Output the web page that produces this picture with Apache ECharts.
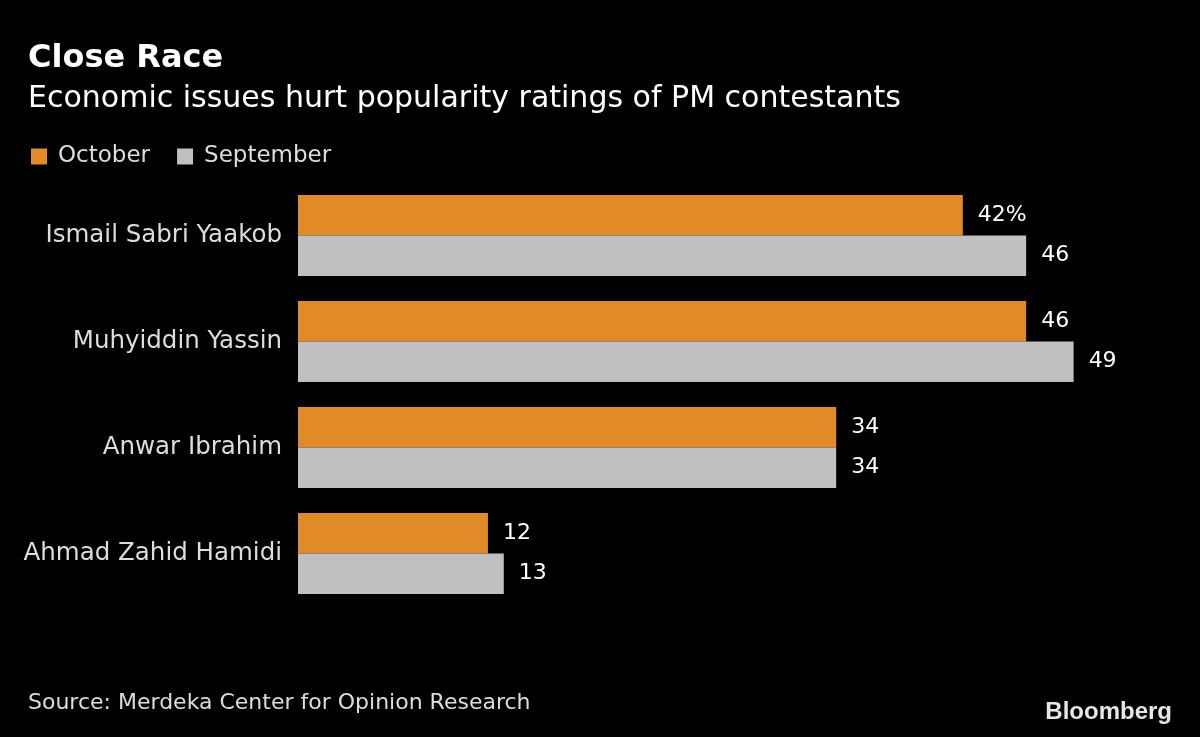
<!DOCTYPE html>
<html>
<head>
<meta charset="utf-8">
<script src="https://cdn.jsdelivr.net/npm/echarts@6/dist/echarts.min.js"></script>
<style>
html,body{margin:0;padding:0;background:#000;}
#chart{width:1200px;height:737px;}
</style>
</head>
<body>
<div id="chart"></div>
<script>
const categories = ["Ismail Sabri Yaakob", "Muhyiddin Yassin", "Anwar Ibrahim", "Ahmad Zahid Hamidi"];
const october = [42, 46, 34, 12];
const september = [46, 49, 34, 13];
const seriesNames = ["October", "September"];

const FONT = "'DejaVu Sans', sans-serif";
const chart = echarts.init(document.getElementById('chart'));
chart.setOption({
  backgroundColor: '#000',
  animation: false,
  textStyle: { fontFamily: FONT },
  title: [
    { text: 'Close Race', left: 23, top: 38, textStyle: { color: '#fff', fontSize: 32, fontWeight: 'bold', fontFamily: FONT } },
    { text: 'Economic issues hurt popularity ratings of PM contestants', left: 23, top: 79, textStyle: { color: '#fff', fontSize: 30, fontWeight: 'normal', fontFamily: FONT } },
    { text: 'Source: Merdeka Center for Opinion Research', left: 23, top: 687, textStyle: { color: '#ddd', fontSize: 22, fontWeight: 'normal', fontFamily: FONT } },
    { text: 'Bloomberg', right: 23, top: 695, textStyle: { color: '#e6e6e6', fontSize: 24, fontWeight: 'bold', fontFamily: "'Liberation Sans', Arial, sans-serif" } }
  ],
  legend: {
    left: 31, top: 145, padding: 0,
    itemWidth: 16, itemHeight: 16, itemGap: 27,
    icon: 'rect',
    textStyle: { color: '#ddd', fontSize: 23, fontFamily: FONT, padding: [0,0,0,6] },
    data: seriesNames
  },
  grid: { left: 298, top: 182.5, height: 424, width: 870.6, containLabel: false },
  xAxis: { type: 'value', min: 0, max: 55, show: false },
  yAxis: {
    type: 'category', data: categories, inverse: true,
    axisLine: { show: false }, axisTick: { show: false },
    axisLabel: { color: '#ddd', fontSize: 24.5, margin: 16, fontFamily: FONT }
  },
  series: [
    {
      name: seriesNames[0], type: 'bar', data: october,
      itemStyle: { color: '#e08a28' },
      barGap: '0%', barCategoryGap: '23.6%',
      label: { show: true, position: 'right', distance: 15, color: '#fff', fontSize: 22, fontFamily: FONT,
        formatter: p => p.dataIndex === 0 ? p.value + '%' : String(p.value) }
    },
    {
      name: seriesNames[1], type: 'bar', data: september,
      itemStyle: { color: '#c0c0c0' },
      barGap: '0%', barCategoryGap: '23.6%',
      label: { show: true, position: 'right', distance: 15, color: '#fff', fontSize: 22, fontFamily: FONT }
    }
  ]
});
</script>
</body>
</html>
